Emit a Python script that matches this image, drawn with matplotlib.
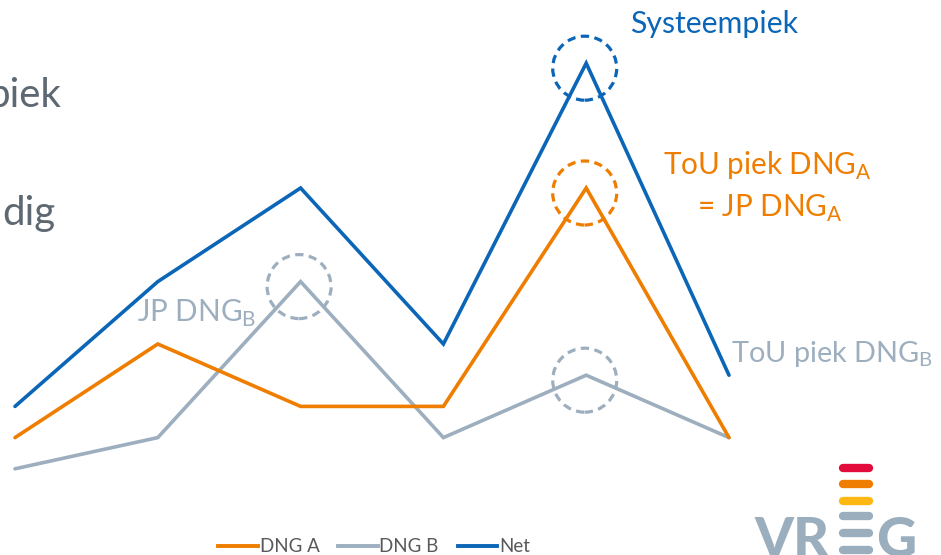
import numpy as np
import matplotlib.pyplot as plt
from matplotlib.patches import Ellipse
from matplotlib.lines import Line2D

plt.rcParams['font.family'] = ['Lato', 'DejaVu Sans']

# data (arbitrary units)
periods = [0, 1, 2, 3, 4, 5]
dng_a = [2, 5, 3, 3, 10, 2]
dng_b = [1, 2, 7, 2, 4, 2]
net = [3, 7, 10, 5, 14, 4]
series_names = ['DNG A', 'DNG B', 'Net']

# peaks that get a dashed circle: (series, index)
peaks = [('net', 4), ('a', 4), ('b', 2), ('b', 4)]

c_blue = '#0B66B8'
c_orange = '#EF7D00'
c_grey = '#9DAFBF'
c_text = '#5D6872'

W, H = 941, 555
fig = plt.figure(figsize=(W/100, H/100), dpi=100)
ax = fig.add_axes([0, 0, 1, 1])
ax.axis('off')

# pixel layout: x0=15, 142.8 px per period; baseline at y=500px, 31.2 px per unit
px_x, px_y = 142.8, 31.2
ax.set_xlim(-15/px_x, (W-15)/px_x)
ax.set_ylim(-(H-500)/px_y, 500/px_y)

lw = 2.6
ax.plot(periods, dng_a, color=c_orange, lw=lw, solid_capstyle='round', solid_joinstyle='miter', zorder=3)
ax.plot(periods, dng_b, color=c_grey, lw=lw, solid_capstyle='round', solid_joinstyle='miter', zorder=2)
ax.plot(periods, net, color=c_blue, lw=lw, solid_capstyle='round', solid_joinstyle='miter', zorder=4)

vals = {'net': (net, c_blue), 'a': (dng_a, c_orange), 'b': (dng_b, c_grey)}
for name, i in peaks:
    v, col = vals[name]
    r = 32
    e = Ellipse((periods[i] - 1.5/px_x, v[i] - 5/px_y), 2*r/px_x, 2*r/px_y,
                fill=False, edgecolor=col, lw=2.3, linestyle=(0, (2.6, 1.7)), zorder=5)
    ax.add_patch(e)

def ftext(x, y, s, **kw):
    fig.text(x/W, 1 - y/H, s, va='baseline', **kw)

fs = 21.3
ftext(630, 33, 'Systeempiek', color=c_blue, fontsize=fs + 0.5)
ftext(663, 175, r'ToU piek DNG$_\mathregular{A}$', color=c_orange, fontsize=fs)
ftext(697, 217, r'= JP DNG$_\mathregular{A}$', color=c_orange, fontsize=fs)
ftext(137, 322, r'JP DNG$_\mathregular{B}$', color=c_grey, fontsize=fs)
ftext(731, 362, r'ToU piek DNG$_\mathregular{B}$', color=c_grey, fontsize=fs - 0.5)

# cut-off slide text on the left
ftext(61, 107, 'piek', color=c_text, fontsize=29, ha='right')
ftext(56, 225, 'dig', color=c_text, fontsize=29, ha='right')

handles = [Line2D([], [], color=c, lw=2.8) for c in (c_orange, c_grey, c_blue)]
fig.legend(handles, series_names, loc='center', bbox_to_anchor=(374/W, 1 - 547/H),
           ncol=3, frameon=False, fontsize=13.5, handlelength=2.1, handletextpad=0.1,
           columnspacing=1.0, labelcolor='#595959', borderpad=0)

# VREG logo
logo = '#9BAEBE'
ftext(754, 557, 'VR', color=logo, fontsize=40, fontweight='black')
for yy, col in [(468, '#E30A3C'), (484, '#EE7D00'), (501, '#FDB813'),
                (516, logo), (533, logo), (550, logo)]:
    fig.add_artist(Line2D([843/W, 869/W], [1 - yy/H, 1 - yy/H], color=col, lw=6,
                          solid_capstyle='round'))
ftext(876, 557, 'G', color=logo, fontsize=40, fontweight='black')

fig.savefig('out.png', dpi=100)
